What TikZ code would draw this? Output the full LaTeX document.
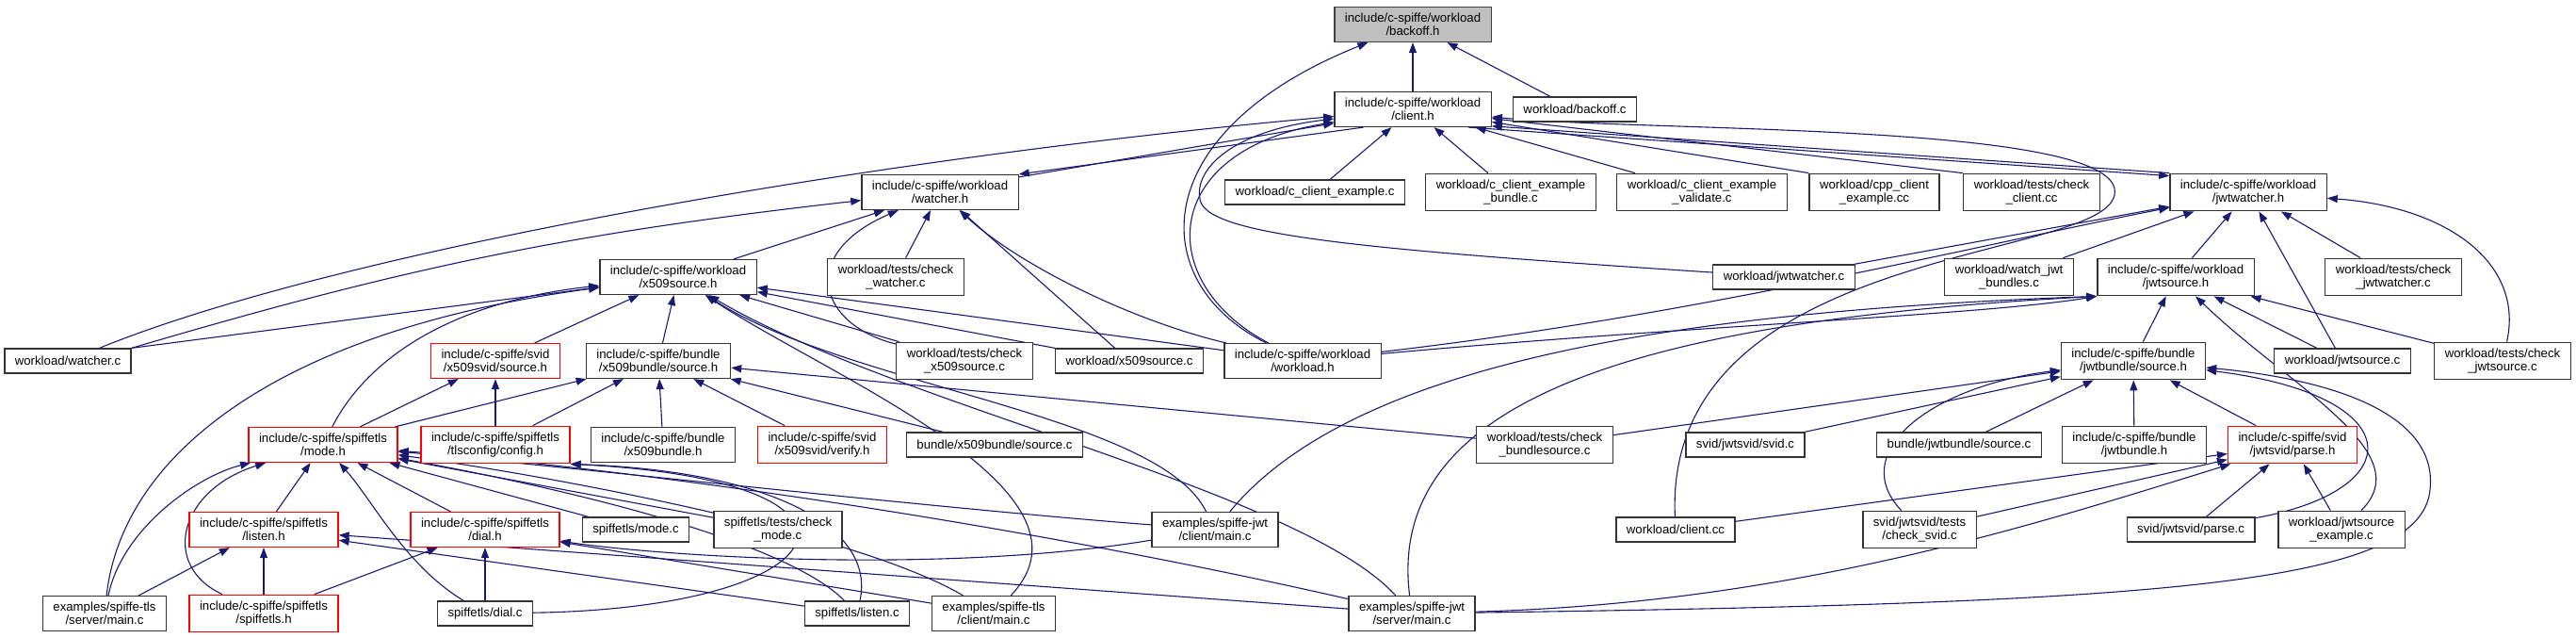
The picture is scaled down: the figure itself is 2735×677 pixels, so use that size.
\documentclass[tikz,border=0pt]{standalone}
\usepackage{fontspec}
\setmainfont{Liberation Sans}
\usetikzlibrary{arrows.meta, backgrounds}
\definecolor{edgeblue}{HTML}{191970}

\begin{document}
\begin{tikzpicture}[
    x=1pt, y=-1pt,
    >={Triangle[length=11pt, width=8pt]},
    filebox/.style={draw=black!80, line width=1.3pt, fill=white, align=center,
                    inner xsep=11pt, inner ysep=6.5pt, minimum height=26pt,
                    font=\fontsize{13.2}{14.2}\selectfont},
    redbox/.style={filebox, draw=red},
    rootbox/.style={filebox, fill=black!25, draw=black!75},
    dep/.style={->, draw=edgeblue, line width=1.1pt}
]
\useasboundingbox (0,0) rectangle (2735,677);

%---------------- top: backoff.h and client.h ----------------
\node[rootbox] (backoffh) at (1500,26) {include/c-spiffe/workload\\/backoff.h};
\node[filebox] (clienth) at (1500,116) {include/c-spiffe/workload\\/client.h};
\node[filebox] (backoffc) at (1672,116) {workload/backoff.c};

%---------------- row 2 ----------------
\node[filebox] (watcherh) at (998,204) {include/c-spiffe/workload\\/watcher.h};
\node[filebox] (cce) at (1396,204) {workload/c\_client\_example.c};
\node[filebox] (cceb) at (1604,204) {workload/c\_client\_example\\\_bundle.c};
\node[filebox] (ccev) at (1807,204) {workload/c\_client\_example\\\_validate.c};
\node[filebox] (cppce) at (1990,204) {workload/cpp\_client\\\_example.cc};
\node[filebox] (chkclient) at (2157,204) {workload/tests/check\\\_client.cc};
\node[filebox] (jwtwatcherh) at (2387,204) {include/c-spiffe/workload\\/jwtwatcher.h};

%---------------- row 3 ----------------
\node[filebox] (x509srch) at (720,294) {include/c-spiffe/workload\\/x509source.h};
\node[filebox] (chkwatcher) at (951,294) {workload/tests/check\\\_watcher.c};
\node[filebox] (jwtwatcherc) at (1894,294) {workload/jwtwatcher.c};
\node[filebox] (watchjwt) at (2133,294) {workload/watch\_jwt\\\_bundles.c};
\node[filebox] (jwtsrch) at (2310,294) {include/c-spiffe/workload\\/jwtsource.h};
\node[filebox] (chkjwtwatcher) at (2541,294) {workload/tests/check\\\_jwtwatcher.c};

%---------------- row 4 ----------------
\node[filebox] (watcherc) at (72,383) {workload/watcher.c};
\node[redbox] (svidsrch) at (526,383) {include/c-spiffe/svid\\/x509svid/source.h};
\node[filebox] (x509bsrch) at (699,383) {include/c-spiffe/bundle\\/x509bundle/source.h};
\node[filebox] (chkx509src) at (1024,383) {workload/tests/check\\\_x509source.c};
\node[filebox] (x509srcc) at (1199,383) {workload/x509source.c};
\node[filebox] (workloadh) at (1383,383) {include/c-spiffe/workload\\/workload.h};
\node[filebox] (jwtbsrch) at (2265,383) {include/c-spiffe/bundle\\/jwtbundle/source.h};
\node[filebox] (jwtsrcc) at (2487,383) {workload/jwtsource.c};
\node[filebox] (chkjwtsrc) at (2657,383) {workload/tests/check\\\_jwtsource.c};

%---------------- row 5 ----------------
\node[redbox] (modeh) at (343,472) {include/c-spiffe/spiffetls\\/mode.h};
\node[redbox] (configh) at (526,472) {include/c-spiffe/spiffetls\\/tlsconfig/config.h};
\node[filebox] (x509bundleh) at (704,472) {include/c-spiffe/bundle\\/x509bundle.h};
\node[redbox] (verifyh) at (873,472) {include/c-spiffe/svid\\/x509svid/verify.h};
\node[filebox] (x509bsrcc) at (1056,472) {bundle/x509bundle/source.c};
\node[filebox] (chkbsrc) at (1640,472) {workload/tests/check\\\_bundlesource.c};
\node[filebox] (svidc) at (1853,472) {svid/jwtsvid/svid.c};
\node[filebox] (jwtbsrcc) at (2080,472) {bundle/jwtbundle/source.c};
\node[filebox] (jwtbundleh) at (2266,472) {include/c-spiffe/bundle\\/jwtbundle.h};
\node[redbox] (parseh) at (2434,472) {include/c-spiffe/svid\\/jwtsvid/parse.h};

%---------------- row 6 ----------------
\node[redbox] (listenh) at (280,562) {include/c-spiffe/spiffetls\\/listen.h};
\node[redbox] (dialh) at (515,562) {include/c-spiffe/spiffetls\\/dial.h};
\node[filebox] (modec) at (675,562) {spiffetls/mode.c};
\node[filebox] (chkmode) at (826,562) {spiffetls/tests/check\\\_mode.c};
\node[filebox] (jwtclient) at (1290,562) {examples/spiffe-jwt\\/client/main.c};
\node[filebox] (clientcc) at (1779,562) {workload/client.cc};
\node[filebox] (chksvid) at (2038,562) {svid/jwtsvid/tests\\/check\_svid.c};
\node[filebox] (parsec) at (2326,562) {svid/jwtsvid/parse.c};
\node[filebox] (jwtsrcex) at (2486,562) {workload/jwtsource\\\_example.c};

%---------------- bottom row ----------------
\node[filebox] (tlsserver) at (111,651) {examples/spiffe-tls\\/server/main.c};
\node[redbox] (spiffetlsh) at (280,651) {include/c-spiffe/spiffetls\\/spiffetls.h};
\node[filebox] (dialc) at (515,651) {spiffetls/dial.c};
\node[filebox] (listenc) at (910,651) {spiffetls/listen.c};
\node[filebox] (tlsclient) at (1055,651) {examples/spiffe-tls\\/client/main.c};
\node[filebox] (jwtserver) at (1499,651) {examples/spiffe-jwt\\/server/main.c};

\begin{scope}[on background layer]
%---------------- into backoff.h ----------------
\draw[dep] (clienth) -- (backoffh);
\draw[dep] (backoffc) -- (backoffh);
\draw[dep] (workloadh) .. controls (1215,300) and (1215,140) .. (backoffh);

%---------------- into client.h ----------------
\draw[dep] ([yshift=-3pt]watcherh.north east) -- (clienth.190);
\draw[dep] (clienth.200) -- (watcherh.north east);
\draw[dep] (watcherc) .. controls (350,270) and (900,170) .. (clienth);
\draw[dep] (cce) -- (clienth);
\draw[dep] (cceb) -- (clienth);
\draw[dep] (ccev) -- (clienth);
\draw[dep] (cppce.north west) -- (clienth);
\draw[dep] (chkclient.north west) -- (clienth);
\draw[dep] (jwtwatcherh.north west) -- (clienth.-12);
\draw[dep] (clienth.-18) -- ([yshift=-3pt]jwtwatcherh.north west);
\draw[dep] (jwtwatcherc) .. controls (1450,265) and (1290,250) .. (1275,215)
                         .. controls (1265,185) and (1300,140) .. (clienth);
\draw[dep] (clientcc) .. controls (1765,250) and (2260,280) .. (2245,200)
                      .. controls (2230,130) and (1750,140) .. (clienth);
\draw[dep] (workloadh) .. controls (1225,300) and (1230,160) .. (clienth);

%---------------- into watcher.h ----------------
\draw[dep] (x509srch) -- (watcherh);
\draw[dep] (watcherc.north east) to[bend left=5] (watcherh);
\draw[dep] (chkwatcher) -- (watcherh);
\draw[dep] (chkx509src) .. controls (870,345) and (845,270) .. (watcherh);
\draw[dep] (x509srcc) -- (watcherh);
\draw[dep] (workloadh) .. controls (1200,340) and (1080,280) .. (watcherh);

%---------------- into x509source.h ----------------
\draw[dep] (watcherc.north east) -- (x509srch);
\draw[dep] (svidsrch) -- (x509srch);
\draw[dep] (x509bsrch) -- (x509srch);
\draw[dep] (modeh) .. controls (390,380) and (480,320) .. (x509srch);
\draw[dep] (tlsserver) .. controls (130,480) and (300,350) .. (x509srch);
\draw[dep] (chkx509src) -- (x509srch);
\draw[dep] (x509srcc.north west) -- (x509srch);
\draw[dep] (workloadh) -- (x509srch);
\draw[dep] (tlsclient) .. controls (1180,520) and (880,400) .. (x509srch);
\draw[dep] (jwtclient) .. controls (1230,440) and (900,410) .. (x509srch);
\draw[dep] (jwtserver) .. controls (1380,520) and (950,430) .. (x509srch);

%---------------- into jwtwatcher.h ----------------
\draw[dep] (jwtwatcherc) -- (jwtwatcherh);
\draw[dep] (watchjwt) -- (jwtwatcherh);
\draw[dep] (jwtsrch) -- (jwtwatcherh);
\draw[dep] (jwtsrcc) -- (jwtwatcherh);
\draw[dep] (chkjwtwatcher) -- (jwtwatcherh);
\draw[dep] (chkjwtsrc) .. controls (2680,280) and (2600,220) .. (jwtwatcherh);
\draw[dep] (workloadh) .. controls (1800,335) and (2100,260) .. (jwtwatcherh);

%---------------- into jwtsource.h ----------------
\draw[dep] (jwtbsrch) -- (jwtsrch);
\draw[dep] (jwtsrcc) -- (jwtsrch);
\draw[dep] (chkjwtsrc) -- (jwtsrch);
\draw[dep] (jwtsrcex) .. controls (2570,480) and (2430,410) .. (jwtsrch);
\draw[dep] (jwtclient) .. controls (1440,380) and (1800,330) .. (jwtsrch.south west);
\draw[dep] (jwtserver) .. controls (1470,420) and (1750,340) .. (jwtsrch.south west);
\draw[dep] (workloadh) .. controls (1800,345) and (2100,335) .. (jwtsrch.south west);

%---------------- into x509bundle/source.h and x509svid/source.h ----------------
\draw[dep] (modeh) -- (x509bsrch);
\draw[dep] (configh) -- (x509bsrch);
\draw[dep] (x509bundleh) -- (x509bsrch);
\draw[dep] (verifyh) -- (x509bsrch);
\draw[dep] (x509bsrcc) -- (x509bsrch);
\draw[dep] (chkbsrc) -- (x509bsrch);
\draw[dep] (modeh) -- (svidsrch);
\draw[dep] (configh) -- (svidsrch);

%---------------- into mode.h ----------------
\draw[dep] (listenh) -- (modeh);
\draw[dep] (dialh) -- (modeh);
\draw[dep] (spiffetlsh) .. controls (170,600) and (190,520) .. (modeh);
\draw[dep] (tlsserver) .. controls (130,560) and (210,505) .. (modeh);
\draw[dep] (dialc) .. controls (430,600) and (395,530) .. (modeh);
\draw[dep] (modec) -- (modeh);
\draw[dep] (chkmode) -- (modeh);
\draw[dep] (listenc) .. controls (820,560) and (500,500) .. (modeh);
\draw[dep] (tlsclient) .. controls (900,560) and (550,500) .. (modeh);
\draw[dep] (jwtclient) .. controls (1000,540) and (600,495) .. (modeh);
\draw[dep] (jwtserver) .. controls (1100,560) and (700,500) .. (modeh);

%---------------- into config.h, listen.h, dial.h ----------------
\draw[dep] (dialc) .. controls (900,645) and (960,510) .. (configh.south east);
\draw[dep] (listenc) .. controls (930,560) and (820,500) .. (configh.south east);
\draw[dep] (tlsserver) -- (listenh);
\draw[dep] (spiffetlsh) -- (listenh);
\draw[dep] (listenc) -- (listenh);
\draw[dep] (jwtserver) -- (listenh);
\draw[dep] (spiffetlsh) -- (dialh);
\draw[dep] (dialc) -- (dialh);
\draw[dep] (tlsclient) -- (dialh);
\draw[dep] (jwtclient) .. controls (1000,610) and (700,590) .. (dialh);

%---------------- into jwtbundle/source.h ----------------
\draw[dep] (chkbsrc) -- (jwtbsrch);
\draw[dep] (svidc) -- (jwtbsrch);
\draw[dep] (chksvid) .. controls (1960,480) and (2050,410) .. (jwtbsrch);
\draw[dep] (jwtbsrcc) -- (jwtbsrch);
\draw[dep] (jwtbundleh) -- (jwtbsrch);
\draw[dep] (parseh) -- (jwtbsrch);
\draw[dep] (parsec) .. controls (2560,520) and (2560,420) .. (jwtbsrch);
\draw[dep] (jwtserver) .. controls (2300,640) and (2570,620) .. (2580,520)
                       .. controls (2590,430) and (2450,400) .. (jwtbsrch);

%---------------- into parse.h ----------------
\draw[dep] (clientcc) -- (parseh);
\draw[dep] (chksvid) -- (parseh);
\draw[dep] (parsec) -- (parseh);
\draw[dep] (jwtsrcex) -- (parseh);
\draw[dep] (jwtserver) .. controls (1900,640) and (2150,560) .. (parseh);
\end{scope}

\end{tikzpicture}
\end{document}
